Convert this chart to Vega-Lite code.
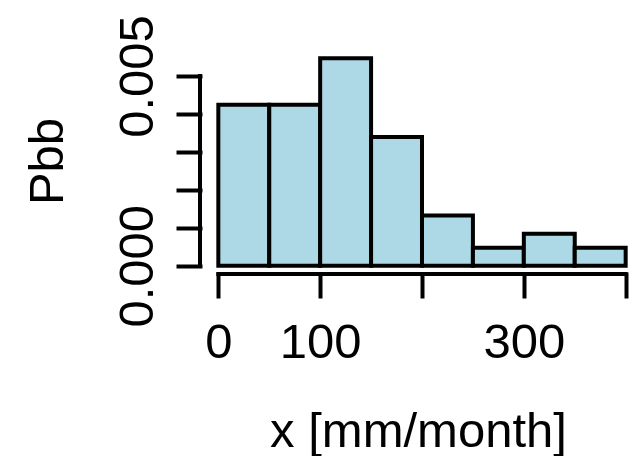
{
  "$schema": "https://vega.github.io/schema/vega-lite/v6.json",
  "width": 433,
  "height": 224,
  "autosize": "none",
  "padding": {"left": 200, "top": 50, "right": 0, "bottom": 182},
  "background": "white",
  "config": {"view": {"stroke": null}, "font": "Liberation Sans"},
  "datasets": {
    "bins": [
      {"bin_start": 0, "bin_end": 50, "density": 0.00424},
      {"bin_start": 50, "bin_end": 100, "density": 0.00424},
      {"bin_start": 100, "bin_end": 150, "density": 0.00547},
      {"bin_start": 150, "bin_end": 200, "density": 0.00339},
      {"bin_start": 200, "bin_end": 250, "density": 0.00132},
      {"bin_start": 250, "bin_end": 300, "density": 0.00047},
      {"bin_start": 300, "bin_end": 350, "density": 0.00084},
      {"bin_start": 350, "bin_end": 400, "density": 0.00047}
    ]
  },
  "layer": [
    {
      "data": {"name": "bins"},
      "mark": {"type": "bar", "fill": "#ADD8E6", "stroke": "black", "strokeWidth": 4, "strokeJoin": "miter"},
      "encoding": {
        "x": {
          "field": "bin_start", "type": "quantitative",
          "scale": {"domain": [-18, 407.2], "nice": false, "zero": false},
          "title": "x [mm/month]",
          "axis": {
            "values": [0, 100, 200, 300, 400],
            "labelExpr": "datum.value === 0 || datum.value === 100 || datum.value === 300 ? datum.label : ''",
            "domain": false, "grid": false,
            "tickSize": 22, "tickWidth": 4, "tickColor": "black", "tickCap": "square",
            "labelFont": "Liberation Sans", "labelFontSize": 49, "labelColor": "black",
            "labelBaseline": "alphabetic", "labelAlign": "center", "labelPadding": 61,
            "labelFlush": false, "labelOverlap": false,
            "titleFont": "Liberation Sans", "titleFontSize": 49, "titleFontWeight": "normal", "titleColor": "black",
            "titleX": 218, "titleY": 172, "titleBaseline": "alphabetic", "titleAlign": "center"
          }
        },
        "x2": {"field": "bin_end"},
        "y": {
          "field": "density", "type": "quantitative",
          "scale": {"domain": [-0.000219, 0.005685], "nice": false, "zero": false},
          "title": "Pbb",
          "axis": {
            "values": [0, 0.001, 0.002, 0.003, 0.004, 0.005],
            "labelExpr": "datum.value === 0 || datum.value === 0.005 ? format(datum.value, '.3f') : ''",
            "domain": false, "grid": false,
            "tickSize": 22, "tickWidth": 4, "tickColor": "black", "tickCap": "square",
            "labelFont": "Liberation Sans", "labelFontSize": 49, "labelColor": "black",
            "labelAngle": -90, "labelAlign": "center", "labelBaseline": "alphabetic", "labelPadding": 26,
            "labelOverlap": false, "labelFlush": false,
            "titleFont": "Liberation Sans", "titleFontSize": 49, "titleFontWeight": "normal", "titleColor": "black",
            "titleAngle": -90, "titleX": -138, "titleY": 111, "titleBaseline": "alphabetic", "titleAlign": "center"
          }
        },
        "y2": {"datum": 0}
      }
    },
    {
      "data": {"values": [{}]},
      "mark": {"type": "rule", "strokeWidth": 4, "strokeCap": "square", "color": "black"},
      "encoding": {"x": {"datum": 0}, "x2": {"datum": 400}, "y": {"datum": -0.000219}}
    },
    {
      "data": {"values": [{}]},
      "mark": {"type": "rule", "strokeWidth": 4, "strokeCap": "square", "color": "black"},
      "encoding": {"x": {"datum": -18}, "y": {"datum": 0}, "y2": {"datum": 0.005}}
    }
  ]
}
